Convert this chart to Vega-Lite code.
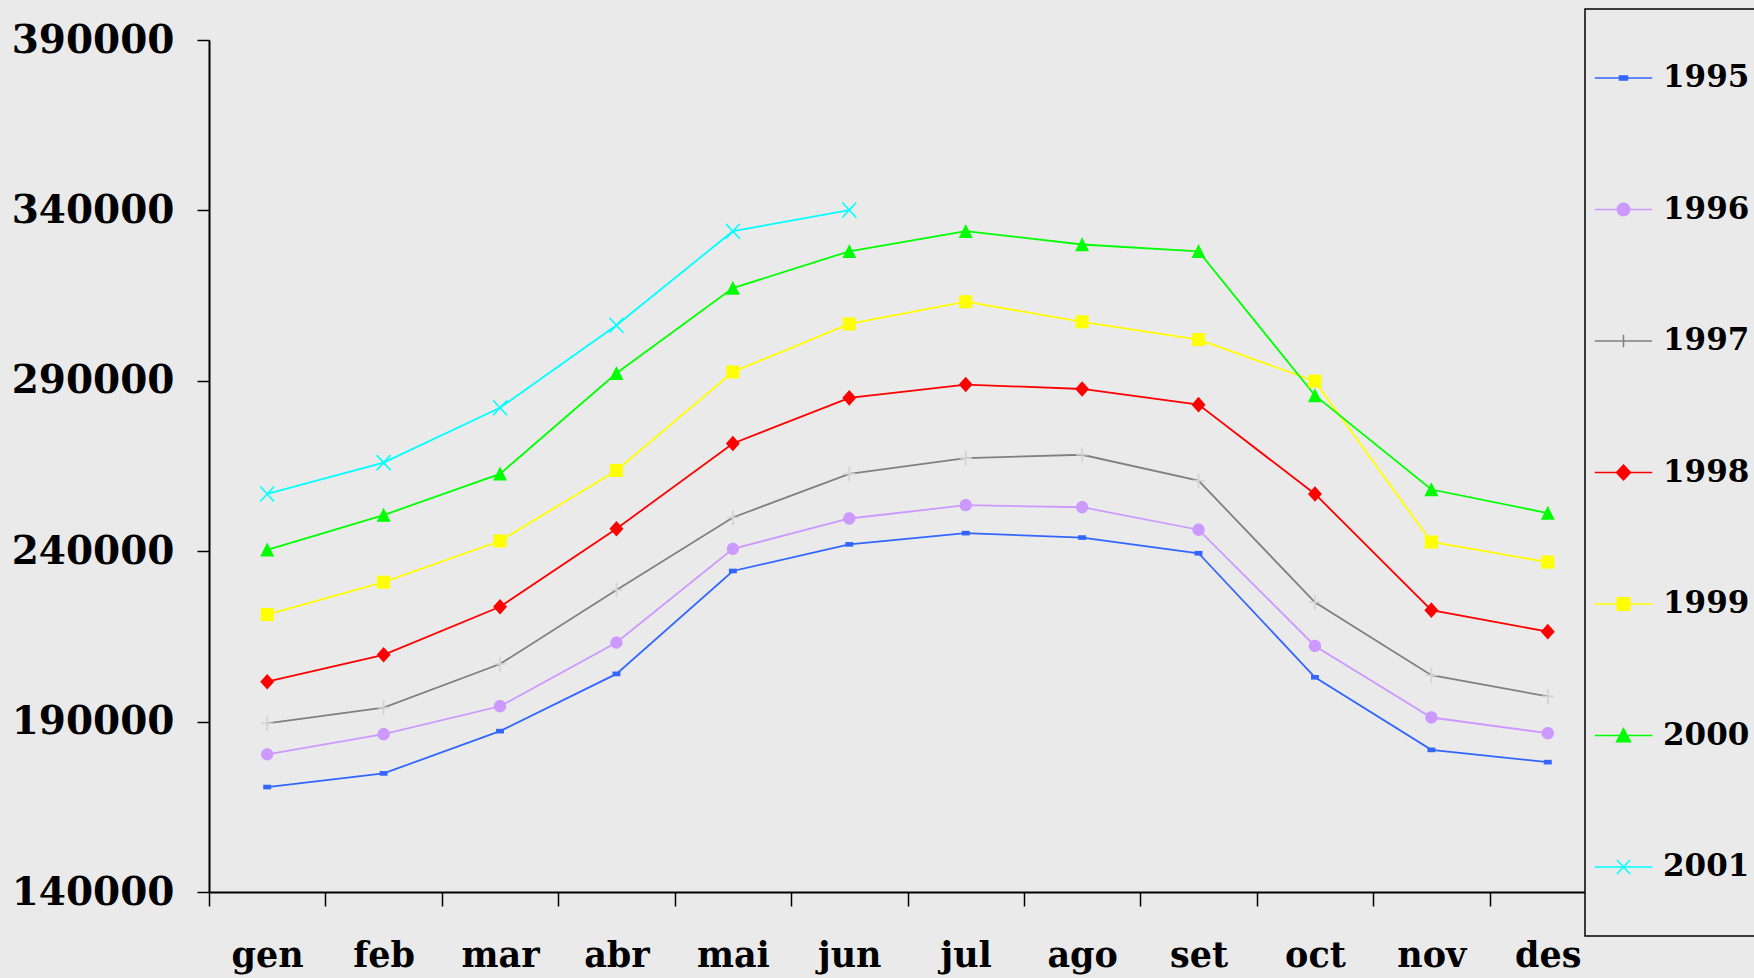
{
  "$schema": "https://vega.github.io/schema/vega-lite/v6.json",
  "width": 1397,
  "height": 852,
  "autosize": "none",
  "padding": {"left": 209, "top": 40, "right": 148, "bottom": 86},
  "background": "#eaeaea",
  "data": {"values": [
    {"month":"gen","year":"1995","value":170800},{"month":"feb","year":"1995","value":174800},{"month":"mar","year":"1995","value":187200},{"month":"abr","year":"1995","value":204000},{"month":"mai","year":"1995","value":234200},{"month":"jun","year":"1995","value":242000},{"month":"jul","year":"1995","value":245300},{"month":"ago","year":"1995","value":244000},{"month":"set","year":"1995","value":239400},{"month":"oct","year":"1995","value":203000},{"month":"nov","year":"1995","value":181700},{"month":"des","year":"1995","value":178100},
    {"month":"gen","year":"1996","value":180400},{"month":"feb","year":"1996","value":186300},{"month":"mar","year":"1996","value":194500},{"month":"abr","year":"1996","value":213200},{"month":"mai","year":"1996","value":240700},{"month":"jun","year":"1996","value":249600},{"month":"jul","year":"1996","value":253500},{"month":"ago","year":"1996","value":252900},{"month":"set","year":"1996","value":246300},{"month":"oct","year":"1996","value":212200},{"month":"nov","year":"1996","value":191200},{"month":"des","year":"1996","value":186600},
    {"month":"gen","year":"1997","value":189500},{"month":"feb","year":"1997","value":194100},{"month":"mar","year":"1997","value":206900},{"month":"abr","year":"1997","value":228600},{"month":"mai","year":"1997","value":249900},{"month":"jun","year":"1997","value":262700},{"month":"jul","year":"1997","value":267300},{"month":"ago","year":"1997","value":268300},{"month":"set","year":"1997","value":260700},{"month":"oct","year":"1997","value":225000},{"month":"nov","year":"1997","value":203600},{"month":"des","year":"1997","value":197400},
    {"month":"gen","year":"1998","value":201700},{"month":"feb","year":"1998","value":209600},{"month":"mar","year":"1998","value":223700},{"month":"abr","year":"1998","value":246600},{"month":"mai","year":"1998","value":271600},{"month":"jun","year":"1998","value":285000},{"month":"jul","year":"1998","value":288900},{"month":"ago","year":"1998","value":287600},{"month":"set","year":"1998","value":283000},{"month":"oct","year":"1998","value":256800},{"month":"nov","year":"1998","value":222700},{"month":"des","year":"1998","value":216400},
    {"month":"gen","year":"1999","value":221400},{"month":"feb","year":"1999","value":230900},{"month":"mar","year":"1999","value":243000},{"month":"abr","year":"1999","value":263700},{"month":"mai","year":"1999","value":292600},{"month":"jun","year":"1999","value":306700},{"month":"jul","year":"1999","value":313200},{"month":"ago","year":"1999","value":307300},{"month":"set","year":"1999","value":302100},{"month":"oct","year":"1999","value":289900},{"month":"nov","year":"1999","value":242700},{"month":"des","year":"1999","value":236800},
    {"month":"gen","year":"2000","value":240400},{"month":"feb","year":"2000","value":250600},{"month":"mar","year":"2000","value":262700},{"month":"abr","year":"2000","value":292200},{"month":"mai","year":"2000","value":317200},{"month":"jun","year":"2000","value":328000},{"month":"jul","year":"2000","value":333900},{"month":"ago","year":"2000","value":330000},{"month":"set","year":"2000","value":328000},{"month":"oct","year":"2000","value":285700},{"month":"nov","year":"2000","value":258100},{"month":"des","year":"2000","value":251200},
    {"month":"gen","year":"2001","value":256800},{"month":"feb","year":"2001","value":266000},{"month":"mar","year":"2001","value":282100},{"month":"abr","year":"2001","value":306300},{"month":"mai","year":"2001","value":333900},{"month":"jun","year":"2001","value":340100}
  ]},
  "encoding": {
    "x": {"field": "month", "type": "nominal",
      "sort": ["gen","feb","mar","abr","mai","jun","jul","ago","set","oct","nov","des"],
      "scale": {"type": "band", "paddingInner": 0, "paddingOuter": 0},
      "axis": {"title": null, "labelAngle": 0, "tickBand": "extent", "tickSize": 14, "labelFontSize": 35, "labelPadding": 32}},
    "y": {"field": "value", "type": "quantitative",
      "scale": {"domain": [140000, 390000], "nice": false, "zero": false},
      "axis": {"title": null, "values": [140000,190000,240000,290000,340000,390000], "format": "d", "tickSize": 12, "labelFontSize": 39, "labelPadding": 23}}
  },
  "layer": [
    {
      "transform": [{"filter": "false"}],
      "mark": {"type": "point", "filled": true, "opacity": 1, "strokeWidth": 1.5},
      "encoding": {
        "color": {"field": "year", "type": "nominal", "legend": {"title": null},
          "scale": {"domain": ["1995","1996","1997","1998","1999","2000","2001"], "range": ["#3366ff","#cc99ff","#808080","#ff0000","#ffff00","#00ff00","#00ffff"]}},
        "stroke": {"field": "year", "type": "nominal", "legend": {"title": null},
          "scale": {"domain": ["1995","1996","1997","1998","1999","2000","2001"], "range": ["#3366ff","#cc99ff","#808080","#ff0000","#ffff00","#00ff00","#00ffff"]}},
        "shape": {"field": "year", "type": "nominal", "legend": {"title": null},
          "scale": {"domain": ["1995","1996","1997","1998","1999","2000","2001"], "range": [
            "M-4.1,0H4.1M-0.57,-0.3H0.57V0.3H-0.57Z",
            "M-4.1,0H4.1M-0.89,0A0.89,0.89 0 1,0 0.89,0A0.89,0.89 0 1,0 -0.89,0Z",
            "M-4.1,0H4.1M0,-0.9V0.9",
            "M-4.1,0H4.1M0,-1.07L1,0L0,1.07L-1,0Z",
            "M-4.1,0H4.1M-0.9,-0.9H0.9V0.9H-0.9Z",
            "M-4.1,0H4.1M0,-1L1,0.9H-1Z",
            "M-4.1,0H4.1M-0.95,-1L0.95,1M-0.95,1L0.95,-1"]}}
      }
    },
    {
      "mark": {"type": "line", "strokeWidth": 1.8},
      "encoding": {
        "color": {"field": "year", "type": "nominal", "legend": null}
      }
    },
    {
      "transform": [{"filter": "datum.year === '1995'"}],
      "mark": {"type": "point", "filled": true, "opacity": 1, "size": 225, "shape": "M-0.53,-0.31H0.53V0.31H-0.53Z"},
      "encoding": {"color": {"field": "year", "type": "nominal", "legend": null}}
    },
    {
      "transform": [{"filter": "datum.year === '1996'"}],
      "mark": {"type": "point", "filled": true, "opacity": 1, "size": 225, "shape": "M-0.82,0A0.82,0.82 0 1,0 0.82,0A0.82,0.82 0 1,0 -0.82,0Z"},
      "encoding": {"color": {"field": "year", "type": "nominal", "legend": null}}
    },
    {
      "transform": [{"filter": "datum.year === '1997'"}],
      "mark": {"type": "point", "filled": false, "opacity": 1, "size": 225, "strokeWidth": 1.6, "stroke": "#d2d2d2", "shape": "M-0.8,0H0.8M0,-1V1"}
    },
    {
      "transform": [{"filter": "datum.year === '1998'"}],
      "mark": {"type": "point", "filled": true, "opacity": 1, "size": 225, "shape": "M0,-1.04L0.93,0L0,1.04L-0.93,0Z"},
      "encoding": {"color": {"field": "year", "type": "nominal", "legend": null}}
    },
    {
      "transform": [{"filter": "datum.year === '1999'"}],
      "mark": {"type": "point", "filled": true, "opacity": 1, "size": 225, "shape": "M-0.87,-0.87H0.87V0.87H-0.87Z"},
      "encoding": {"color": {"field": "year", "type": "nominal", "legend": null}}
    },
    {
      "transform": [{"filter": "datum.year === '2000'"}],
      "mark": {"type": "point", "filled": true, "opacity": 1, "size": 225, "shape": "M0,-0.97L0.93,0.9H-0.93Z"},
      "encoding": {"color": {"field": "year", "type": "nominal", "legend": null}}
    },
    {
      "transform": [{"filter": "datum.year === '2001'"}],
      "mark": {"type": "point", "filled": false, "opacity": 1, "size": 225, "strokeWidth": 1.6, "stroke": "#00ffff", "shape": "M-0.93,-1L0.93,1M-0.93,1L0.93,-1"}
    }
  ],
  "config": {
    "view": {"stroke": null},
    "axis": {"domainColor": "#000", "domainWidth": 2, "tickColor": "#000", "tickWidth": 1.5, "grid": false, "labelFont": "DejaVu Serif", "labelFontWeight": "bold", "labelColor": "#000"},
    "legend": {"orient": "none", "legendX": 1376, "legendY": -31, "padding": 9, "strokeColor": "#000", "strokeWidth": 1.5, "fillColor": "#eaeaea", "clipHeight": 120, "rowPadding": 11.5, "symbolSize": 196, "symbolStrokeWidth": 1.5, "symbolOpacity": 1, "symbolOffset": 14, "labelOffset": 24, "labelFont": "DejaVu Serif", "labelFontWeight": "bold", "labelFontSize": 31, "labelColor": "#000"}
  }
}
